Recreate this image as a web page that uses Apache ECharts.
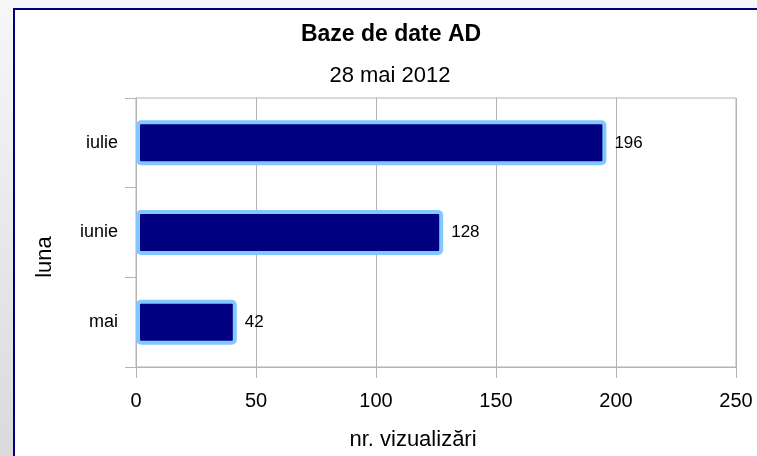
<!DOCTYPE html>
<html>
<head>
<meta charset="utf-8">
<script src="https://cdn.jsdelivr.net/npm/echarts@6/dist/echarts.min.js"></script>
<style>
  html, body { margin: 0; padding: 0; }
  body {
    width: 757px; height: 456px; overflow: hidden; position: relative;
    background: linear-gradient(to bottom, #f7f7f7, #dadada);
  }
  /* rama albastra a graficului */
  .frame {
    position: absolute; left: 13px; top: 8px; width: 800px; height: 500px;
    border: 2px solid #000080; background: #fff;
  }
  #chart { position: absolute; left: 0; top: 0; width: 757px; height: 456px; }
</style>
</head>
<body>
<div class="frame"></div>
<div id="chart"></div>
<script>
// date grafic
const luni = ['mai', 'iunie', 'iulie']     // categorii (de jos in sus)
const vizualizari = [42, 128, 196]         // valori
const titlu = 'Baze de date AD'
const subtitlu = '28 mai 2012'
const numeX = 'nr. vizualizări'
const numeY = 'luna'

const font = 'Liberation Sans, Arial, sans-serif'
const gri = '#b3b3b3'

const chart = echarts.init(document.getElementById('chart'))

const options = {
    backgroundColor: 'transparent',
    animation: false,
    graphic: [
        { type: 'text', x: 391, y: 35, style: { text: titlu, font: 'bold 23px ' + font, fill: '#000', textAlign: 'center', textVerticalAlign: 'middle' } },
        { type: 'text', x: 390, y: 76, style: { text: subtitlu, font: '22px ' + font, fill: '#000', textAlign: 'center', textVerticalAlign: 'middle' } },
        { type: 'text', x: 413, y: 440, style: { text: numeX, font: '22px ' + font, fill: '#000', textAlign: 'center', textVerticalAlign: 'middle' } },
        { type: 'text', x: 45, y: 257, rotation: Math.PI / 2, style: { text: numeY, font: '22px ' + font, fill: '#000', textAlign: 'center', textVerticalAlign: 'middle' } }
    ],
    grid: {
        left: 136,
        right: 21,
        top: 98,
        bottom: 89,
        show: true,
        borderColor: gri,
        borderWidth: 1,
        backgroundColor: 'transparent'
    },
    xAxis: {
        type: 'value',
        min: 0,
        max: 250,
        interval: 50,
        axisLine: { show: true, lineStyle: { color: gri } },
        axisTick: { show: true, length: 11, lineStyle: { color: gri } },
        splitLine: { show: true, lineStyle: { color: gri } },
        axisLabel: { color: '#000', fontFamily: font, fontSize: 20, margin: 24 }
    },
    yAxis: {
        type: 'category',
        data: luni,
        axisLine: { show: true, lineStyle: { color: gri } },
        axisTick: { show: true, length: 11, alignWithLabel: false, lineStyle: { color: gri } },
        splitLine: { show: false },
        axisLabel: { color: '#000', fontFamily: font, fontSize: 18, margin: 18 }
    },
    series: [
        {
            type: 'bar',
            data: vizualizari,
            barWidth: 45,
            itemStyle: {
                color: '#000080',
                borderColor: '#80c8ff',
                borderWidth: 4,
                borderRadius: 3
            },
            label: {
                show: true,
                position: 'right',
                distance: 8,
                color: '#000',
                fontFamily: font,
                fontSize: 17
            }
        }
    ]
}

chart.setOption(options)
</script>
</body>
</html>
